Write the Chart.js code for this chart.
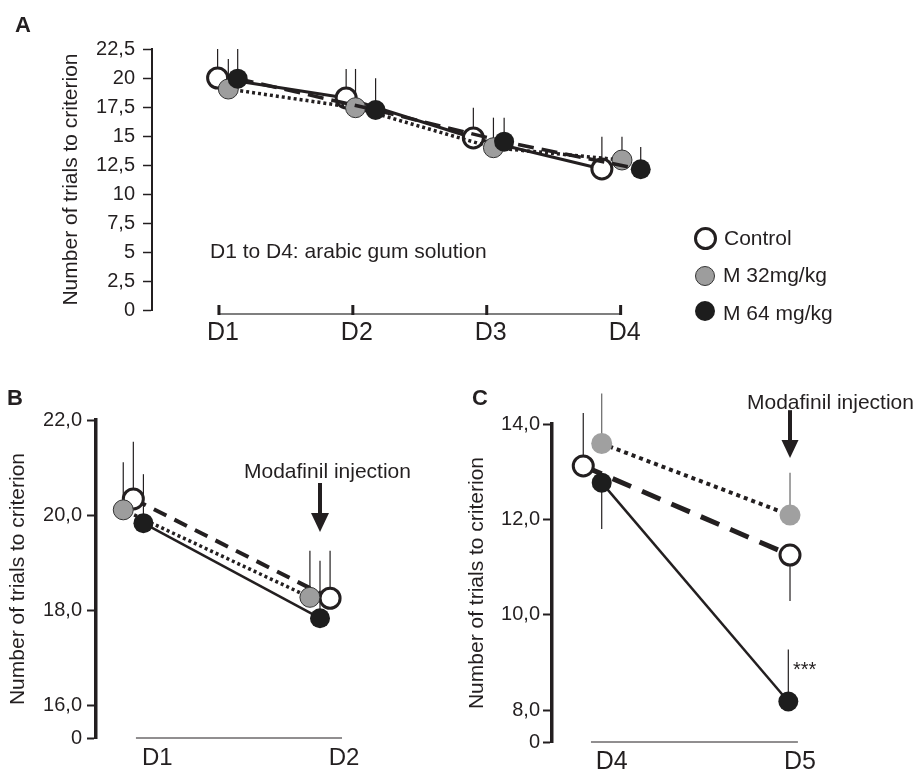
<!DOCTYPE html>
<html>
<head>
<meta charset="utf-8">
<script src="https://cdn.jsdelivr.net/npm/chart.js@4.4.1/dist/chart.umd.min.js"></script>
<style>
  body { margin: 0; background: #fff; }
  #wrap { position: relative; width: 916px; height: 772px; overflow: hidden;
          font-family: "Liberation Sans", Arial, Helvetica, sans-serif; color: #231f20; }
  #wrap canvas { position: absolute; left: 0; top: 0; }
  .txt { position: absolute; white-space: nowrap; line-height: 1; }
  .big { font-size: 22px; font-weight: bold; }
  .dot { position: absolute; box-sizing: border-box; border-radius: 50%; }
</style>
</head>
<body>
<div id="wrap">
  <canvas id="chartA" width="916" height="772"></canvas>
  <canvas id="chartB" width="916" height="772"></canvas>
  <canvas id="chartC" width="916" height="772"></canvas>

  <div class="txt big" style="left:15px;top:14px">A</div>
  <div class="txt big" style="left:7px;top:387px">B</div>
  <div class="txt big" style="left:472px;top:387px">C</div>

  <div class="txt" style="left:210px;top:240px;font-size:21px">D1 to D4: arabic gum solution</div>
  <div class="txt" style="left:244px;top:460px;font-size:21px">Modafinil injection</div>
  <div class="txt" style="left:747px;top:391px;font-size:21px">Modafinil injection</div>
  <div class="txt" style="left:793px;top:659px;font-size:20px">***</div>

  <!-- legend -->
  <div class="dot" style="left:694px;top:227px;width:23px;height:23px;border:3px solid #231f20;background:#fff"></div>
  <div class="dot" style="left:695px;top:266px;width:20px;height:20px;border:1px solid #333;background:#9d9d9d"></div>
  <div class="dot" style="left:695px;top:301px;width:20px;height:20px;background:#1d1d1d"></div>
  <div class="txt" style="left:724px;top:227px;font-size:21px">Control</div>
  <div class="txt" style="left:723px;top:264px;font-size:21px">M 32mg/kg</div>
  <div class="txt" style="left:723px;top:302px;font-size:21px">M 64 mg/kg</div>
</div>

<script>
// Dados (valores médios e barras de erro)

// Painel A: D1 a D4 (goma arábica)
const daysA = ['D1', 'D2', 'D3', 'D4'];
const controlA = [20.0, 18.28, 14.83, 12.16];
const m32A = [19.05, 17.44, 13.99, 12.93];
const m64A = [19.94, 17.24, 14.51, 12.13];
const semControlA = [2.5, 2.5, 2.61, 2.78];
const semM32A = [2.59, 3.34, 2.59, 2.01];
const semM64A = [2.56, 2.73, 2.07, 1.92];
const yTicksA = [0, 2.5, 5, 7.5, 10, 12.5, 15, 17.5, 20, 22.5];
const yLabelsA = ['0', '2,5', '5', '7,5', '10', '12,5', '15', '17,5', '20', '22,5'];

// Painel B: D1 e D2
const daysB = ['D1', 'D2'];
const controlB = [20.34, 18.25];
const m32B = [20.11, 18.27];
const m64B = [19.83, 17.83];
const semControlB = [1.20, 1.00];
const semM32B = [1.00, 0.98];
const semM64B = [1.03, 1.21];
const yBreakB = 15.31; // eixo quebrado: o "0" fica no fundo
const yTicksB = [yBreakB, 16, 18, 20, 22];
const yLabelsB = ['0', '16,0', '18,0', '20,0', '22,0'];

// Painel C: D4 e D5
const daysC = ['D4', 'D5'];
const controlC = [13.12, 11.25];
const m32C = [13.59, 12.09];
const m64C = [12.77, 8.18];
// o sinal indica o lado em que a barra é desenhada
const semControlC = [1.11, -0.96];
const semM32C = [1.05, 0.89];
const semM64C = [-0.97, 1.09];
const yBreakC = 7.33;
const yTicksC = [yBreakC, 8, 10, 12, 14];
const yLabelsC = ['0', '8,0', '10,0', '12,0', '14,0'];

// Deslocamento horizontal dos marcadores (para não se sobreporem)
const dodgeControlA = [-0.01, -0.05, -0.10, -0.14];
const dodgeM32A = [0.07, 0.02, 0.05, 0.01];
const dodgeM64A = [0.14, 0.17, 0.13, 0.15];
const dodgeControlB = [0, 0.054];
const dodgeM32B = [-0.054, -0.054];
const dodgeM64B = [0.054, 0];
const dodgeControlC = [-0.098, 0];
const dodgeM32C = [0, 0];
const dodgeM64C = [0, -0.009];

const INK = '#231f20';
Chart.defaults.font.family = '"Liberation Sans", Arial, Helvetica, sans-serif';
Chart.defaults.color = INK;

// Função para montar os pontos {x, y}
function toPoints(values, dodge) {
    return values.map((v, i) => ({ x: i + 1 + dodge[i], y: v }));
}

// Estilos dos marcadores
const controlMarker = { pointRadius: 10, pointHoverRadius: 10, pointBorderWidth: 3,
    pointBackgroundColor: '#fff', pointBorderColor: INK, order: 3 };
const m32Marker = { pointRadius: 10, pointHoverRadius: 10, pointBorderWidth: 1,
    pointBackgroundColor: '#9d9d9d', pointBorderColor: '#333', order: 2 };
const m32MarkerC = { pointRadius: 10.5, pointHoverRadius: 10.5, pointBorderWidth: 0,
    pointBackgroundColor: '#a0a0a0', pointBorderColor: '#a0a0a0', order: 2 };
const m64Marker = { pointRadius: 10, pointHoverRadius: 10, pointBorderWidth: 0,
    pointBackgroundColor: '#1d1d1d', pointBorderColor: '#1d1d1d', order: 1 };

function series(label, values, sem, dodge, marker, line) {
    return Object.assign({
        label: label,
        data: toPoints(values, dodge),
        sem: sem,
        clip: false,
        fill: false,
        tension: 0,
        borderColor: INK
    }, marker, line);
}

// Plugin: barras de erro (só a metade visível na figura)
const errorBars = {
    id: 'errorBars',
    beforeDatasetsDraw(chart) {
        const ctx = chart.ctx;
        const y = chart.scales.y;
        chart.data.datasets.forEach((ds, i) => {
            const meta = chart.getDatasetMeta(i);
            meta.data.forEach((pt, j) => {
                const end = y.getPixelForValue(ds.data[j].y + ds.sem[j]);
                ctx.save();
                ctx.strokeStyle = ds.errColor || INK;
                ctx.lineWidth = 1.2;
                ctx.beginPath();
                ctx.moveTo(pt.x, pt.y);
                ctx.lineTo(pt.x, end);
                ctx.stroke();
                ctx.restore();
            });
        });
    }
};

// Plugin: linha do eixo dos dias (não ocupa toda a largura)
const dayAxis = {
    id: 'dayAxis',
    beforeDatasetsDraw(chart, args, o) {
        const { ctx, chartArea, scales: { x } } = chart;
        const y = chartArea.bottom + o.offset;
        ctx.save();
        ctx.strokeStyle = o.color;
        ctx.lineWidth = o.width;
        ctx.beginPath();
        ctx.moveTo(x.getPixelForValue(o.from), y);
        ctx.lineTo(x.getPixelForValue(o.to), y);
        ctx.stroke();
        if (o.tickMarks) {
            ctx.strokeStyle = INK;
            ctx.lineWidth = 3;
            x.ticks.forEach(t => {
                const px = x.getPixelForValue(t.value);
                ctx.beginPath();
                ctx.moveTo(px, y + 1);
                ctx.lineTo(px, y - 9);
                ctx.stroke();
            });
        }
        ctx.restore();
    }
};

// Plugin: seta da injeção de modafinil
const injectionArrow = {
    id: 'injectionArrow',
    afterDraw(chart, args, o) {
        if (!o || o.at === undefined) return;
        const { ctx, scales: { x, y } } = chart;
        const px = x.getPixelForValue(o.at);
        const top = y.getPixelForValue(o.from);
        const tip = y.getPixelForValue(o.to);
        ctx.save();
        ctx.strokeStyle = INK;
        ctx.fillStyle = INK;
        ctx.lineWidth = 4;
        ctx.beginPath();
        ctx.moveTo(px, top);
        ctx.lineTo(px, tip - o.head + 1);
        ctx.stroke();
        ctx.beginPath();
        ctx.moveTo(px - o.half, tip - o.head);
        ctx.lineTo(px + o.half, tip - o.head);
        ctx.lineTo(px, tip);
        ctx.closePath();
        ctx.fill();
        ctx.restore();
    }
};

// Função para criar as opções de cada painel
function panelOptions(p) {
    return {
        responsive: false,
        animation: false,
        events: [],
        layout: { padding: p.padding },
        plugins: {
            legend: { display: false },
            tooltip: { enabled: false },
            dayAxis: p.dayAxis,
            injectionArrow: p.arrow || {}
        },
        scales: {
            x: {
                type: 'linear',
                min: p.xMin,
                max: p.xMax,
                afterBuildTicks: s => { s.ticks = p.days.map((d, i) => ({ value: i + 1 })); },
                afterFit: s => { s.height = p.xHeight; },
                border: { display: false },
                grid: { display: false, drawTicks: false },
                ticks: {
                    autoSkip: false,
                    maxRotation: 0,
                    padding: p.xPad,
                    labelOffset: p.labelOffset,
                    font: { size: p.xFont },
                    color: INK,
                    callback: (v, i) => p.days[i]
                }
            },
            y: {
                type: 'linear',
                min: p.yTicks[0],
                max: p.yTicks[p.yTicks.length - 1],
                afterBuildTicks: s => { s.ticks = p.yTicks.map(v => ({ value: v })); },
                afterFit: s => { s.width = p.yWidth; },
                border: { display: true, color: INK, width: p.axisWidth },
                grid: {
                    display: true,
                    drawOnChartArea: false,
                    drawTicks: true,
                    tickLength: 9,
                    tickWidth: p.tickWidth,
                    tickColor: INK,
                    color: INK
                },
                ticks: {
                    autoSkip: false,
                    padding: p.yPad,
                    font: { size: 20 },
                    color: INK,
                    callback: (v, i) => p.yLabels[i]
                },
                title: {
                    display: true,
                    text: 'Number of trials to criterion',
                    font: { size: 21 },
                    padding: 0,
                    color: INK
                }
            }
        }
    };
}

// Painel A
new Chart(document.getElementById('chartA'), {
    type: 'line',
    data: {
        datasets: [
            series('Control', controlA, semControlA, dodgeControlA, controlMarker,
                { borderWidth: 3 }),
            series('M 32mg/kg', m32A, semM32A, dodgeM32A, m32Marker,
                { borderWidth: 3.5, borderDash: [3, 3] }),
            series('M 64 mg/kg', m64A, semM64A, dodgeM64A, m64Marker,
                { borderWidth: 3.5, borderDash: [16, 8] })
        ]
    },
    options: panelOptions({
        days: daysA, xMin: 0.5, xMax: 4.3, xHeight: 60, xPad: 8, labelOffset: 4, xFont: 25,
        yTicks: yTicksA, yLabels: yLabelsA, yWidth: 93, axisWidth: 2, tickWidth: 1.5, yPad: 8,
        padding: { left: 59, right: 255.2, top: 49, bottom: 402 },
        dayAxis: { from: 1, to: 4, offset: 4, color: '#555', width: 1.5, tickMarks: true }
    }),
    plugins: [errorBars, dayAxis]
});

// Painel B
new Chart(document.getElementById('chartB'), {
    type: 'line',
    data: {
        datasets: [
            series('Control', controlB, semControlB, dodgeControlB, controlMarker,
                { borderWidth: 4, borderDash: [14, 9] }),
            series('M 32mg/kg', m32B, semM32B, dodgeM32B, m32Marker,
                { borderWidth: 3.5, borderDash: [3, 3] }),
            series('M 64 mg/kg', m64B, semM64B, dodgeM64B, m64Marker,
                { borderWidth: 2.5 })
        ]
    },
    options: panelOptions({
        days: daysB, xMin: 0.8, xMax: 2.3, xHeight: 34, xPad: 6, labelOffset: 24, xFont: 24,
        yTicks: yTicksB, yLabels: yLabelsB, yWidth: 90, axisWidth: 3.5, tickWidth: 2, yPad: 5,
        padding: { left: 6, right: 540, top: 420, bottom: 0 },
        dayAxis: { from: 1.014, to: 2.118, offset: 0, color: INK, width: 1, tickMarks: false },
        arrow: { at: 2, from: 20.675, to: 19.644, head: 19, half: 9 }
    }),
    plugins: [errorBars, dayAxis, injectionArrow]
});

// Painel C
new Chart(document.getElementById('chartC'), {
    type: 'line',
    data: {
        datasets: [
            series('Control', controlC, semControlC, dodgeControlC, controlMarker,
                { borderWidth: 5, borderDash: [20, 12] }),
            Object.assign(series('M 32mg/kg', m32C, semM32C, dodgeM32C, m32MarkerC,
                { borderWidth: 4, borderDash: [4, 4] }), { errColor: '#666' }),
            series('M 64 mg/kg', m64C, semM64C, dodgeM64C, m64Marker,
                { borderWidth: 2.5 })
        ]
    },
    options: panelOptions({
        days: daysC, xMin: 0.736, xMax: 2.3, xHeight: 30, xPad: 5, labelOffset: 10, xFont: 25,
        yTicks: yTicksC, yLabels: yLabelsC, yWidth: 87, axisWidth: 3.5, tickWidth: 2, yPad: 3,
        padding: { left: 465, right: 69.5, top: 424, bottom: 0 },
        dayAxis: { from: 0.943, to: 2.042, offset: 0, color: INK, width: 1, tickMarks: false },
        arrow: { at: 2, from: 14.29, to: 13.285, head: 18, half: 8.5 }
    }),
    plugins: [errorBars, dayAxis, injectionArrow]
});
</script>
</body>
</html>
